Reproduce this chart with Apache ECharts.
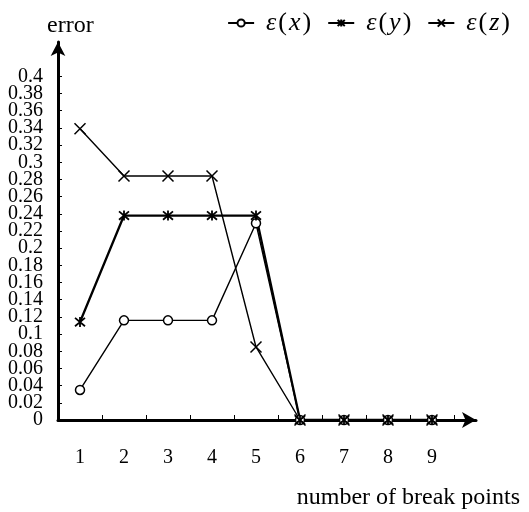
<!DOCTYPE html>
<html>
<head>
<meta charset="utf-8">
<script src="https://cdn.jsdelivr.net/npm/echarts@6/dist/echarts.min.js"></script>
<style>
  html, body { margin: 0; padding: 0; background: #fff; }
  #chart { width: 529px; height: 512px; }
</style>
</head>
<body>
<div id="chart"></div>
<script>
// Number of break points (x) and the three error curves
const breakPoints = [1, 2, 3, 4, 5, 6, 7, 8, 9];
const errX = [0.035, 0.116, 0.116, 0.116, 0.229, 0, 0, 0, 0];
const errY = [0.114, 0.238, 0.238, 0.238, 0.238, 0, 0, 0, 0];
const errZ = [0.339, 0.284, 0.284, 0.284, 0.085, 0, 0, 0, 0];

// Axis tick values and labels
const yLabelValues = [0, 0.02, 0.04, 0.06, 0.08, 0.1, 0.12, 0.14, 0.16, 0.18, 0.2,
  0.22, 0.24, 0.26, 0.28, 0.3, 0.32, 0.34, 0.36, 0.38, 0.4];
const yTickValues = yLabelValues.slice(1);
const xTickValues = [1.5, 2.5, 3.5, 4.5, 5.5, 6.5, 7.5, 8.5, 9.5];

// The labels are packed tightly, so they are spread over two stacked y axes
// (every other label on each) to keep the overlap check from dropping any.
const yLabelsEven = yLabelValues.filter((v, i) => i % 2 === 0);
const yLabelsOdd = yLabelValues.filter((v, i) => i % 2 === 1);

const SERIF = '"Liberation Serif", "DejaVu Serif", serif';
const ASTERISK = 'path://M0,0 L10,10 M10,0 L0,10 M5,-1 L5,11';
const CROSS = 'path://M0,0 L10,10 M10,0 L0,10';

const pairs = ys => breakPoints.map((x, i) => [x, ys[i]]);

const yLabelStyle = values => ({
  margin: 15, fontFamily: SERIF, fontSize: 20, color: '#000',
  customValues: values, formatter: v => String(v),
  showMinLabel: true, showMaxLabel: true, hideOverlap: false
});

const chart = echarts.init(document.getElementById('chart'), null, { renderer: 'canvas' });

chart.setOption({
  animation: false,
  backgroundColor: '#fff',
  title: [
    { text: 'error', left: 42, top: 9,
      textStyle: { fontFamily: SERIF, fontSize: 24, fontWeight: 'normal', color: '#000' } },
    { text: 'number of break points', right: 4, top: 481,
      textStyle: { fontFamily: SERIF, fontSize: 24, fontWeight: 'normal', color: '#000' } }
  ],
  legend: {
    right: 14, top: 5,
    itemWidth: 26, itemHeight: 9, itemGap: 16,
    formatter: name => '{s|ε}{q|(}{p|' + name.charAt(2) + '}{q|)}',
    textStyle: {
      color: '#000',
      rich: {
        s: { fontFamily: SERIF, fontSize: 26, fontStyle: 'italic', color: '#000', padding: [0, 1, 0, 7] },
        p: { fontFamily: SERIF, fontSize: 26, fontStyle: 'italic', color: '#000', padding: [0, 1, 0, 1] },
        q: { fontFamily: SERIF, fontSize: 26, color: '#000', padding: [0, 1, 0, 1] }
      }
    }
  },
  grid: { left: 58, right: 53, top: 42, bottom: 92, containLabel: false },
  xAxis: {
    type: 'value', min: 0.5, max: 10,
    splitLine: { show: false },
    axisLine: { lineStyle: { color: '#000', width: 3 }, symbol: ['none', 'arrow'], symbolSize: [12, 14] },
    axisTick: { inside: true, length: 5, lineStyle: { color: '#000', width: 1 }, customValues: xTickValues },
    axisLabel: { margin: 28, fontFamily: SERIF, fontSize: 20, color: '#000', customValues: breakPoints,
      showMinLabel: true, showMaxLabel: true, hideOverlap: false }
  },
  yAxis: [
    {
      type: 'value', min: 0, max: 0.44, position: 'left',
      splitLine: { show: false },
      axisLine: { show: true, lineStyle: { color: '#000', width: 3 }, symbol: ['none', 'arrow'], symbolSize: [11, 14] },
      axisTick: { show: true, inside: true, length: 4, lineStyle: { color: '#000', width: 1 }, customValues: yTickValues },
      axisLabel: yLabelStyle(yLabelsEven)
    },
    {
      type: 'value', min: 0, max: 0.44, position: 'left', offset: 0,
      splitLine: { show: false },
      axisLine: { show: false },
      axisTick: { show: false },
      axisLabel: yLabelStyle(yLabelsOdd)
    }
  ],
  series: [
    { name: 'ε(x)', type: 'line', data: pairs(errX),
      symbol: 'circle', symbolSize: 9, showAllSymbol: true,
      lineStyle: { color: '#000', width: 1.4 },
      itemStyle: { color: '#fff', borderColor: '#000', borderWidth: 1.5 } },
    { name: 'ε(y)', type: 'line', data: pairs(errY),
      symbol: ASTERISK, symbolSize: 10, showAllSymbol: true,
      lineStyle: { color: '#000', width: 2.3 },
      itemStyle: { color: '#000', borderColor: '#000', borderWidth: 1.8 } },
    { name: 'ε(z)', type: 'line', data: pairs(errZ),
      symbol: CROSS, symbolSize: 11, showAllSymbol: true,
      lineStyle: { color: '#000', width: 1.4 },
      itemStyle: { color: '#000', borderColor: '#000', borderWidth: 1.5 } }
  ]
});
</script>
</body>
</html>
